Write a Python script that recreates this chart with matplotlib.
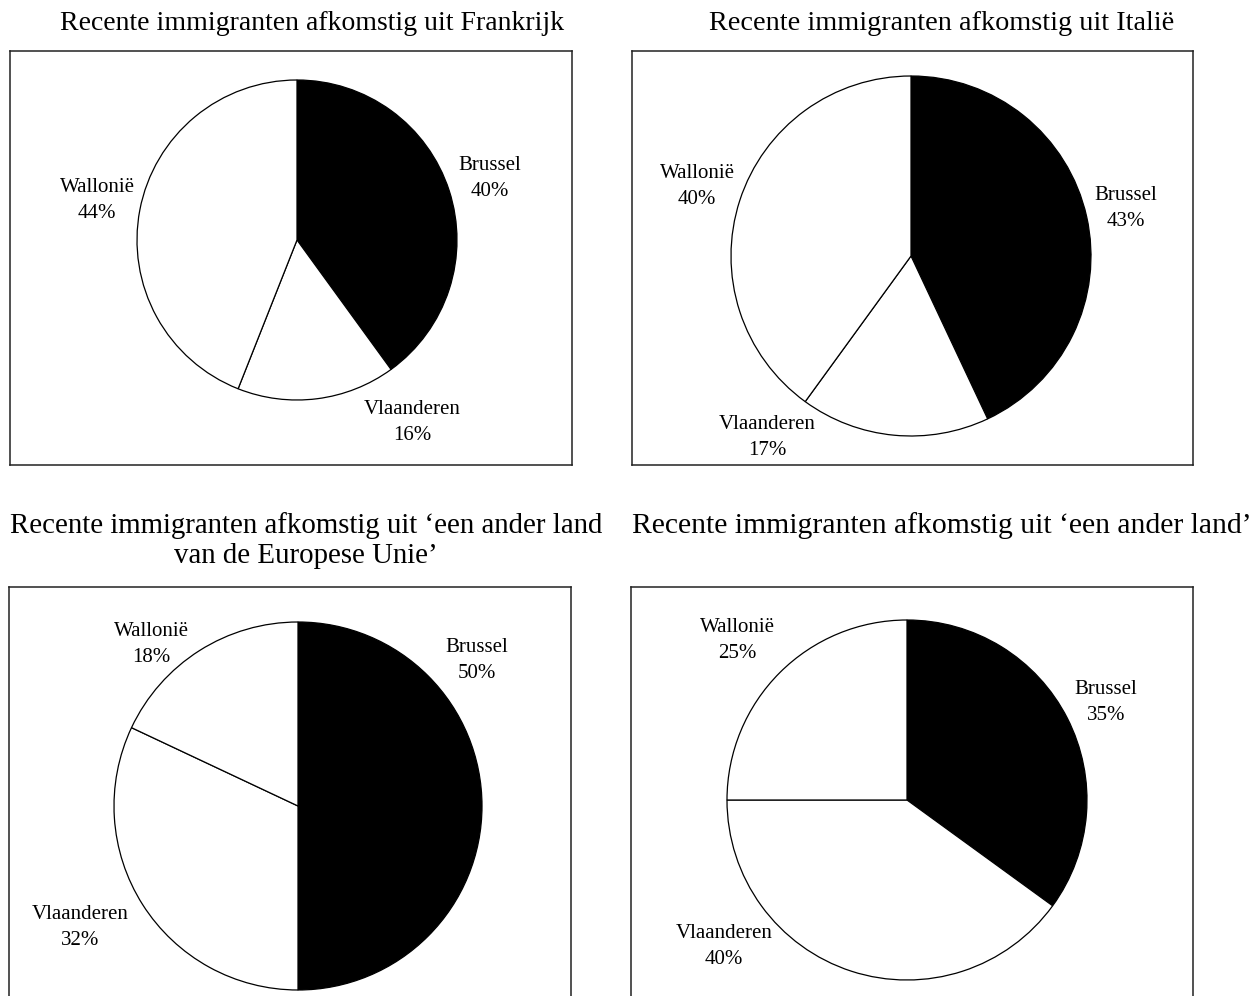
"""
Four pie charts: regional spread of recent immigrants by country of origin.
"""

import matplotlib
matplotlib.use("Agg")
import matplotlib.pyplot as plt

plt.rcParams["font.family"] = ["Liberation Serif", "DejaVu Serif"]

W, H = 1251, 996

REGIONS = ["Brussel", "Vlaanderen", "Wallonië"]
COLORS = ["black", "white", "white"]

FRANKRIJK = [40, 16, 44]
ITALIE = [43, 17, 40]
ANDER_EU_LAND = [50, 32, 18]
ANDER_LAND = [35, 40, 25]

TITLES = [
    "Recente immigranten afkomstig uit Frankrijk",
    "Recente immigranten afkomstig uit Italië",
    "Recente immigranten afkomstig uit \u2018een ander land\nvan de Europese Unie\u2019",
    "Recente immigranten afkomstig uit \u2018een ander land\u2019",
]

# layout in pixels (y measured from the top of the image)
PANELS = [
    dict(values=FRANKRIJK, box=(10, 51, 572, 465), center=(297, 240), radius=160,
         title_xy=(312, 24), title_size=20,
         labels={"Brussel": (490, 179), "Vlaanderen": (412, 422), "Wallonië": (97, 200)}),
    dict(values=ITALIE, box=(632, 51, 1193, 465), center=(911, 256), radius=180,
         title_xy=(942, 24), title_size=20.3,
         labels={"Brussel": (1126, 209), "Vlaanderen": (767, 437), "Wallonië": (697, 186)}),
    dict(values=ANDER_EU_LAND, box=(9, 587, 571, 1010), center=(298, 806), radius=184,
         title_xy=(306, 541), title_size=20.8,
         labels={"Brussel": (477, 660), "Vlaanderen": (80, 927), "Wallonië": (151, 644)}),
    dict(values=ANDER_LAND, box=(631, 587, 1193, 1010), center=(907, 800), radius=180,
         title_xy=(942, 526), title_size=21.3,
         labels={"Brussel": (1106, 703), "Vlaanderen": (724, 946), "Wallonië": (737, 641)}),
]


def draw_panel(fig, panel, title):
    x0, y0, x1, y1 = panel["box"]
    ax = fig.add_axes([x0 / W, 1 - y1 / H, (x1 - x0) / W, (y1 - y0) / H])
    ax.pie(
        panel["values"],
        colors=COLORS,
        startangle=90,
        counterclock=False,
        center=(panel["center"][0], H - panel["center"][1]),
        radius=panel["radius"],
        frame=True,
        wedgeprops=dict(edgecolor="black", linewidth=0.9),
    )
    ax.set_xlim(x0, x1)
    ax.set_ylim(H - y1, H - y0)
    ax.set_aspect("auto")
    ax.set_xticks([])
    ax.set_yticks([])
    for spine in ax.spines.values():
        spine.set_linewidth(1.1)
        spine.set_color("#222222")

    for name, value in zip(REGIONS, panel["values"]):
        lx, ly = panel["labels"][name]
        ax.text(lx, H - ly, f"{name}\n{value}%", ha="center", va="center",
                fontsize=15, linespacing=1.5, color="black")

    tx, ty = panel["title_xy"]
    fig.text(tx / W, 1 - ty / H, title, ha="center", va="center",
             fontsize=panel["title_size"], linespacing=1.2, color="black")


def main() -> None:
    fig = plt.figure(figsize=(W / 100, H / 100), dpi=100)
    fig.patch.set_facecolor("white")
    for panel, title in zip(PANELS, TITLES):
        draw_panel(fig, panel, title)
    fig.savefig("out.png", dpi=100, facecolor="white")
    plt.close(fig)


if __name__ == "__main__":
    main()
